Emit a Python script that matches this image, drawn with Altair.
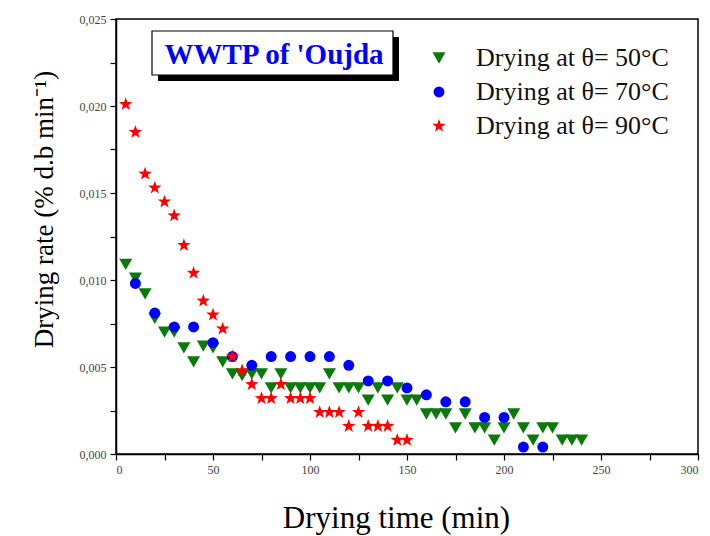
import altair as alt
import pandas as pd

# Drying-rate curves of WWTP sludge at three air temperatures
series_names = ["Drying at θ= 50°C", "Drying at θ= 70°C", "Drying at θ= 90°C"]

t50 = [5, 10, 15, 20, 25, 30, 35, 40, 45, 50, 55, 60, 65, 70, 75, 80, 85, 90, 95, 100,
       105, 110, 115, 120, 125, 130, 135, 140, 145, 150, 155, 160, 165, 170, 175, 180,
       185, 190, 195, 200, 205, 210, 215, 220, 225, 230, 235, 240]
r50 = [0.0109, 0.0101, 0.0092, 0.0078, 0.0070, 0.0070, 0.0061, 0.0053, 0.0062, 0.0061,
       0.0053, 0.0046, 0.0045, 0.0046, 0.0046, 0.0038, 0.0046, 0.0038, 0.0038, 0.0038,
       0.0038, 0.0046, 0.0038, 0.0038, 0.0038, 0.0031, 0.0038, 0.0031, 0.0038, 0.0031,
       0.0031, 0.0023, 0.0023, 0.0023, 0.0015, 0.0023, 0.0015, 0.0015, 0.0008, 0.0015,
       0.0023, 0.0015, 0.0008, 0.0015, 0.0015, 0.0008, 0.0008, 0.0008]

t70 = [10, 20, 30, 40, 50, 60, 70, 80, 90, 100, 110, 120, 130, 140, 150, 160, 170, 180,
       190, 200, 210, 220]
r70 = [0.0098, 0.0081, 0.0073, 0.0073, 0.0064, 0.0056, 0.0051, 0.0056, 0.0056, 0.0056,
       0.0056, 0.0051, 0.0042, 0.0042, 0.0038, 0.0034, 0.0030, 0.0030, 0.0021, 0.0021,
       0.0004, 0.0004]

t90 = [5, 10, 15, 20, 25, 30, 35, 40, 45, 50, 55, 60, 65, 70, 75, 80, 85, 90, 95, 100,
       105, 110, 115, 120, 125, 130, 135, 140, 145, 150]
r90 = [0.0201, 0.0185, 0.0161, 0.0153, 0.0145, 0.0137, 0.0120, 0.0104, 0.0088, 0.0080,
       0.0072, 0.0056, 0.0048, 0.0040, 0.0032, 0.0032, 0.0040, 0.0032, 0.0032, 0.0032,
       0.0024, 0.0024, 0.0024, 0.0016, 0.0024, 0.0016, 0.0016, 0.0016, 0.0008, 0.0008]

x_ticks = [0, 25, 50, 75, 100, 125, 150, 175, 200, 225, 250, 275, 300]
y_ticks = [0, 0.0025, 0.005, 0.0075, 0.01, 0.0125, 0.015, 0.0175, 0.02, 0.0225, 0.025]

site_label = "WWTP of 'Oujda"

# five-pointed star as a custom symbol path (unit coordinates)
STAR = ("M0,-1L0.235,-0.324L0.951,-0.309L0.380,0.124L0.588,0.809L0,0.4"
        "L-0.588,0.809L-0.380,0.124L-0.951,-0.309L-0.235,-0.324Z")

frames = []
for name, ts, rs in [(series_names[0], t50, r50), (series_names[1], t70, r70),
                     (series_names[2], t90, r90)]:
    frames.append(pd.DataFrame({"time": ts, "rate": rs, "series": name}))
df = pd.concat(frames, ignore_index=True)
df["order"] = df["series"].map({n: i for i, n in enumerate(series_names)})

SERIF = "Liberation Serif"
Y_MAJOR = "round(datum.value * 10000) % 50 === 0"

x_axis = alt.Axis(
    values=x_ticks,
    labelExpr="datum.value % 50 === 0 ? datum.label : ''",
    tickSize=6,
    title="Drying time (min)",
    titleFont=SERIF, titleFontSize=31, titleFontWeight="normal", titleColor="black",
    titleX=280, titleY=73, titleBaseline="alphabetic", titleAnchor="middle",
    titleAlign="center",
    labelFont=SERIF, labelFontSize=12, labelColor="#444", labelPadding=4,
    domainColor="black", domainWidth=1.5, tickColor="black", tickWidth=1.2,
    grid=False,
)
y_axis = alt.Axis(
    values=y_ticks,
    labelExpr=Y_MAJOR + " ? replace(format(datum.value, '.3f'), '.', ',') : ''",
    tickSize=6,
    title="Drying rate (% d.b min⁻¹)",
    titleFont=SERIF, titleFontSize=27, titleFontWeight="normal", titleColor="black",
    titleX=-58, titleY=190, titleAngle=-90, titleAlign="center", titleBaseline="bottom",
    labelFont=SERIF, labelFontSize=12, labelColor="#444", labelPadding=4,
    domainColor="black", domainWidth=1.5, tickColor="black", tickWidth=1.2,
    grid=False,
)

merged_legend = alt.Legend(title=None)

points = alt.Chart(df).mark_point(filled=True, opacity=1).encode(
    x=alt.X("time:Q", scale=alt.Scale(domain=[0, 300], nice=False), axis=x_axis),
    y=alt.Y("rate:Q", scale=alt.Scale(domain=[0, 0.025], nice=False), axis=y_axis),
    shape=alt.Shape("series:N", scale=alt.Scale(domain=series_names,
                                                range=["triangle-down", "circle", STAR]),
                    legend=merged_legend),
    color=alt.Color("series:N", scale=alt.Scale(domain=series_names,
                                                range=["#0b7a0b", "#0000ff", "#ff0000"]),
                    legend=merged_legend),
    size=alt.Size("series:N", scale=alt.Scale(type="ordinal", domain=series_names,
                                              range=[170, 120, 200]),
                  legend=merged_legend),
    order=alt.Order("order:Q"),
)

label_df = pd.DataFrame({"label": [site_label]})

shadow = alt.Chart(label_df).mark_rect(color="black").encode(
    x=alt.value(42), x2=alt.value(283), y=alt.value(18), y2=alt.value(62)
)
box = alt.Chart(label_df).mark_rect(fill="white", stroke="black", strokeWidth=1.2).encode(
    x=alt.value(36), x2=alt.value(277), y=alt.value(12), y2=alt.value(56)
)
label = alt.Chart(label_df).mark_text(
    font=SERIF, fontSize=29, fontWeight="bold", color="#0000ff",
    align="center", baseline="alphabetic",
).encode(x=alt.value(158), y=alt.value(45), text="label:N")

chart = alt.layer(points, shadow, box, label).properties(
    width=582, height=435,
    padding={"left": 116, "top": 19, "right": 12, "bottom": 82},
    autosize="none",
    background="white",
).configure_view(
    stroke="black", strokeWidth=1.5
).configure_legend(
    orient="none", legendX=310, legendY=26, padding=0,
    labelFont=SERIF, labelFontSize=26, labelColor="#111", labelLimit=400,
    labelOffset=24, rowPadding=8, symbolStrokeWidth=0,
)

chart.save("out.html", embed_options={"renderer": "svg", "actions": False})
